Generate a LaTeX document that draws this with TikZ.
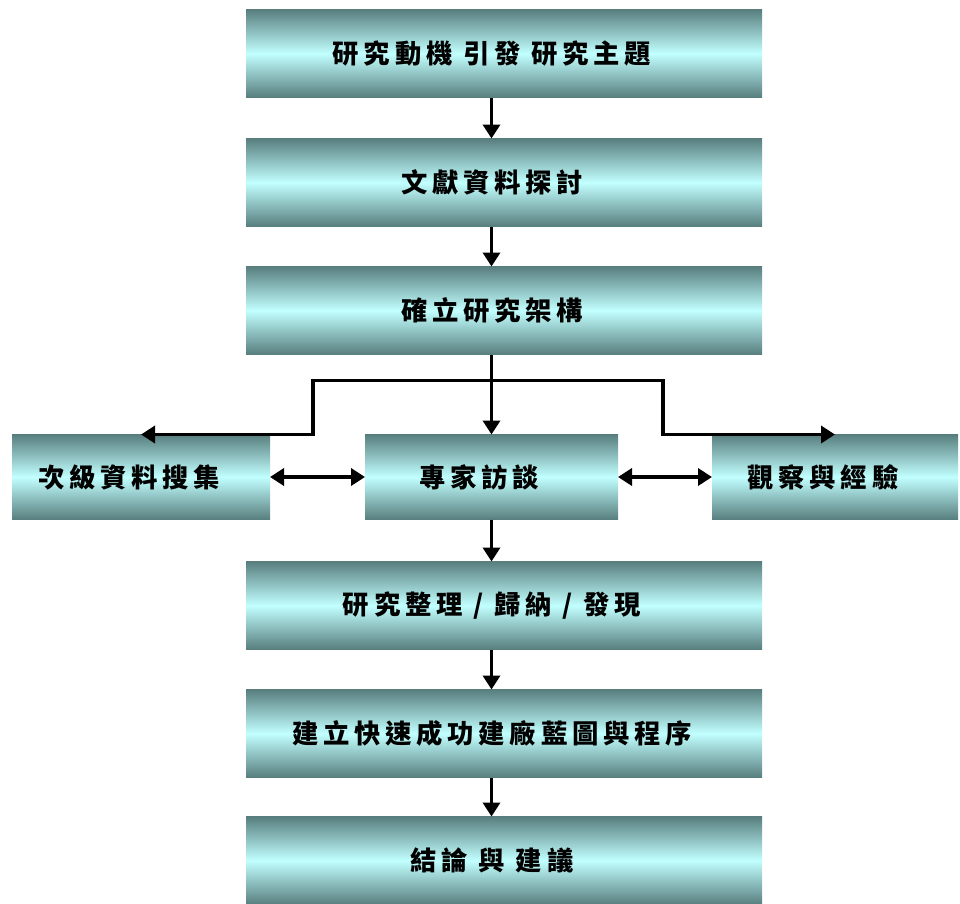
\documentclass[tikz,border=0pt]{standalone}
\usepackage{fontspec}
\usepackage{xcolor}
\usepackage{tikz}
\usetikzlibrary{arrows.meta}
\usetikzlibrary{positioning}
\newfontfamily\cjk[LetterSpace=18]{Noto Sans CJK TC}
\definecolor{boxdark}{RGB}{88,126,126}
\definecolor{boxlight}{RGB}{194,255,255}

\begin{document}
\begin{tikzpicture}[>={Triangle[length=0.28cm,width=0.34cm]},line width=2pt,node distance=0.8cm,
	main node/.style={rectangle, inner sep=0pt, outer sep=0pt, minimum width=10.32cm, minimum height=1.76cm, top color=boxdark, bottom color=boxdark, middle color=boxlight, font=\fontsize{15}{18}\selectfont\cjk\bfseries, execute at begin node={\hspace*{-0.48cm}}},
	side node/.style={main node, minimum width=5.06cm, minimum height=1.7cm, execute at begin node={}}]
	
	\useasboundingbox (0,0) rectangle (19.2,-18.06);
	
	\node[main node] (1) at (10.08,-1.07) {研究動機 引發 研究主題};
	\node[main node] (2) [below=0.82cm of 1] {文獻資料探討};
	\node[main node] (3) [below=0.8cm of 2] {確立研究架構};
	\node[side node] (5) [below=1.6cm of 3, xshift=-0.25cm] {專家訪談};
	\node[side node, minimum width=5.16cm] (4) [left=1.9cm of 5] {次級資料搜集};
	\node[side node, minimum width=4.92cm] (6) [right=1.88cm of 5] {觀察與經驗};
	\node[main node] (7) [below=0.84cm of 5, xshift=0.25cm] {研究整理 / 歸納 / 發現};
	\node[main node] (8) [below=0.8cm of 7] {建立快速成功建廠藍圖與程序};
	\node[main node] (9) [below=0.78cm of 8] {結論 與 建議};
	
	\coordinate (fork) at ([yshift=-0.52cm]3.south -| 5.north);
	
	\draw[->] (1.south -| 5.north) -- (2.north -| 5.north);
	\draw[->] (2.south -| 5.north) -- (3.north -| 5.north);
	\draw[->] (3.south -| 5.north) -- (5.north);
	\draw[->] (fork) -| ([xshift=0.86cm]4.north east) -- (4.north);
	\draw[->] (fork) -| ([xshift=-0.98cm]6.north west) -- (6.north);
	\draw[<->] (4) -- (5);
	\draw[<->] (5) -- (6);
	\draw[->] (5.south) -- (7.north -| 5.south);
	\draw[->] (7.south -| 5.north) -- (8.north -| 5.north);
	\draw[->] (8.south -| 5.north) -- (9.north -| 5.north);
	
\end{tikzpicture}
\end{document}
